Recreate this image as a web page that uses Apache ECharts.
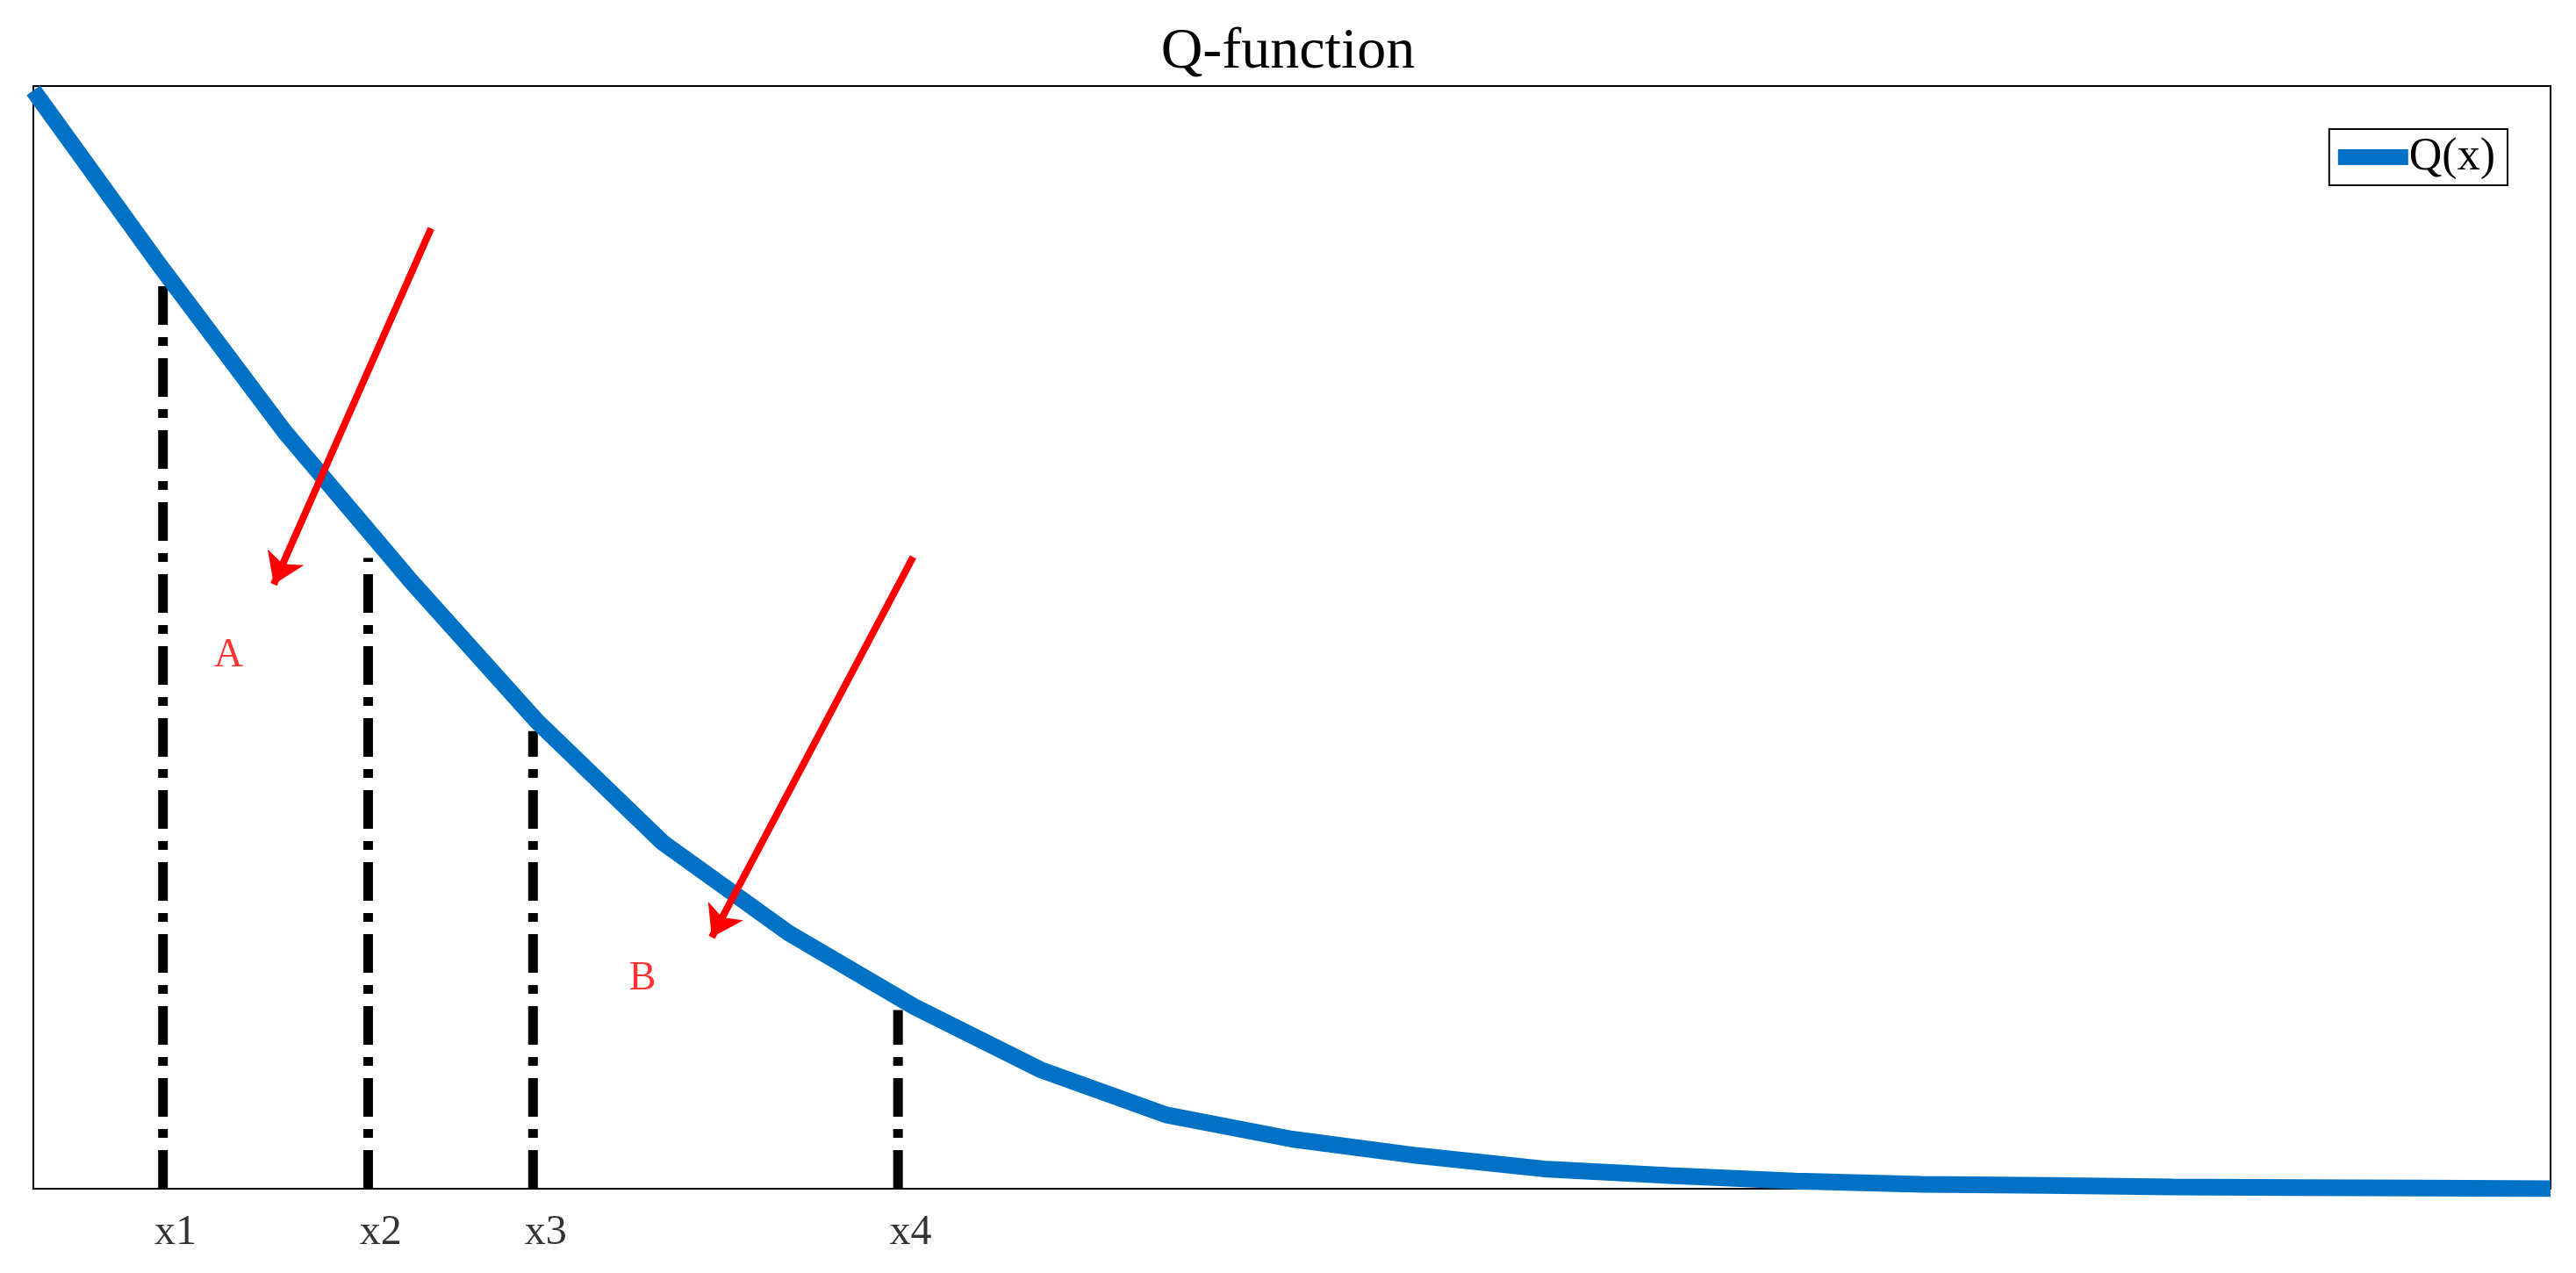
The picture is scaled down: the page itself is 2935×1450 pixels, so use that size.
<!DOCTYPE html>
<html>
<head>
<meta charset="utf-8">
<script src="https://cdn.jsdelivr.net/npm/echarts@6/dist/echarts.min.js"></script>
<style>html,body{margin:0;padding:0;background:#fff}#chart{width:2935px;height:1450px}</style>
</head>
<body>
<div id="chart"></div>
<script>
// curve samples, x = 0..20
const qValues = [0.996, 0.838, 0.686, 0.551, 0.424, 0.314, 0.232, 0.165, 0.108, 0.067, 0.045,
  0.030, 0.018, 0.012, 0.007, 0.004, 0.003, 0.0015, 0.001, 0.0005, 0];
// marker lines
const markNames = ['x1', 'x2', 'x3', 'x4'];
const markX = [1.03, 2.66, 3.97, 6.87];
const markTop = [0.826, 0.572, 0.415, 0.162];
// arrows: [x0, y0, x1, y1]
const arrows = [[3.16, 0.871, 1.91, 0.548], [6.99, 0.573, 5.39, 0.228]];
const arrowLabels = ['A', 'B'];
const arrowLabelPos = [[1.55, 0.483], [4.84, 0.19]];

function renderChart() {
  const chart = echarts.init(document.getElementById('chart'));
  const serif = 'Liberation Serif';
  const series = [
    {
      name: 'Q(x)',
      type: 'line',
      data: qValues.map((v, i) => [i, v]),
      symbol: 'none',
      lineStyle: {color: '#0072c6', width: 19},
      itemStyle: {color: '#0072c6'},
      z: 3
    }
  ];
  markX.forEach((x, i) => {
    series.push({
      type: 'line',
      data: [[x, 0], [x, markTop[i]]],
      symbol: 'none',
      lineStyle: {color: '#000', width: 11, type: [44, 14, 10, 14]},
      z: 2
    });
  });
  series.push({
    type: 'scatter',
    clip: false,
    symbolSize: 0,
    data: markNames.map((n, i) => ({name: n, value: [markX[i] + 0.1, -0.04]})),
    label: {show: true, formatter: '{b}', color: '#000', fontFamily: serif, fontSize: 48}
  });
  series.push({
    type: 'lines',
    coordinateSystem: 'cartesian2d',
    symbol: ['none', 'arrow'],
    symbolSize: 34,
    lineStyle: {color: '#ff0000', width: 8, opacity: 1},
    data: arrows.map(a => ({coords: [[a[0], a[1]], [a[2], a[3]]]})),
    z: 4
  });
  series.push({
    type: 'scatter',
    symbolSize: 0,
    data: arrowLabels.map((n, i) => ({name: n, value: arrowLabelPos[i]})),
    label: {show: true, formatter: '{b}', color: '#ff0000', fontFamily: serif, fontSize: 46}
  });
  const option = {
    animation: false,
    backgroundColor: '#fff',
    title: {
      text: 'Q-function',
      left: 'center',
      top: 22,
      textStyle: {fontFamily: serif, fontSize: 66, fontWeight: 'normal', color: '#000'}
    },
    legend: {
      data: ['Q(x)'],
      right: 78,
      top: 147,
      icon: 'rect',
      itemWidth: 80,
      itemHeight: 18,
      itemGap: 4,
      padding: [6, 14, 6, 10],
      borderColor: '#000',
      borderWidth: 2,
      textStyle: {fontFamily: serif, fontSize: 52, color: '#000', padding: [0, 0, 0, -4]}
    },
    grid: {
      left: 38,
      right: 29,
      top: 98,
      bottom: 96,
      show: true,
      borderColor: '#000',
      borderWidth: 2
    },
    xAxis: {
      type: 'value', min: 0, max: 20,
      axisLine: {show: false}, axisTick: {show: false}, axisLabel: {show: false}, splitLine: {show: false}
    },
    yAxis: {
      type: 'value', min: 0, max: 1,
      axisLine: {show: false}, axisTick: {show: false}, axisLabel: {show: false}, splitLine: {show: false}
    },
    series: series
  };
  chart.setOption(option, true);
}
renderChart();
</script>
</body>
</html>
